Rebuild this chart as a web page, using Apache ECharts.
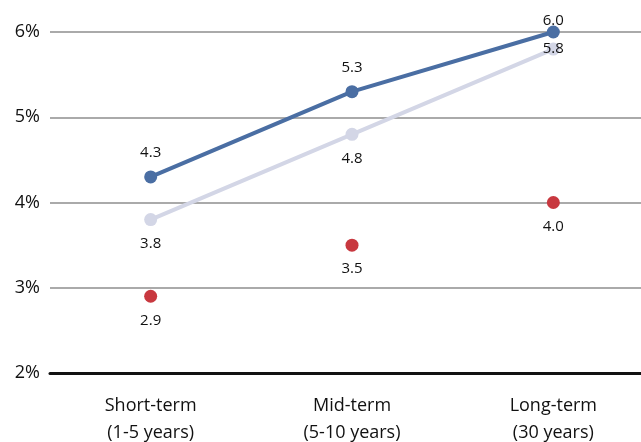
<!DOCTYPE html>
<html>
<head>
<meta charset="utf-8">
<script src="https://cdn.jsdelivr.net/npm/echarts@6/dist/echarts.min.js"></script>
<style>
  html, body { margin: 0; padding: 0; background: #fff; overflow: hidden; }
  #chart { width: 654px; height: 442px; }
</style>
</head>
<body>
<div id="chart"></div>
<script>
// Yield expectations by maturity
const categories = ['Short-term\n(1-5 years)', 'Mid-term\n(5-10 years)', 'Long-term\n(30 years)'];
const upperSeries = [4.3, 5.3, 6.0];
const middleSeries = [3.8, 4.8, 5.8];
const lowerSeries = [2.9, 3.5, 4.0];
const yTicks = [2, 3, 4, 5, 6];

const FONT = '"Open Sans", "Noto Sans", sans-serif';
const labelStyle = { color: '#111', fontSize: 15, fontFamily: FONT };
const fmt = p => p.value.toFixed(1);

const chart = echarts.init(document.getElementById('chart'));
chart.setOption({
  animation: false,
  grid: { left: 50, right: 0, top: 32, bottom: 69, containLabel: false, outerBoundsMode: 'none' },
  xAxis: {
    type: 'category',
    data: categories,
    boundaryGap: true,
    axisLine: { lineStyle: { color: '#111', width: 3 } },
    axisTick: { show: false },
    axisLabel: { color: '#111', fontSize: 18, fontFamily: FONT, lineHeight: 27, margin: 19 }
  },
  yAxis: {
    type: 'value',
    min: yTicks[0],
    max: yTicks[yTicks.length - 1],
    interval: 1,
    axisLine: { show: false },
    axisTick: { show: false },
    splitLine: { lineStyle: { color: '#aaa', width: 2 } },
    axisLabel: { color: '#111', fontSize: 18, fontFamily: FONT, margin: 10, formatter: v => v + '%' }
  },
  series: [
    {
      type: 'line',
      data: middleSeries.map((v, i) => i === 2
        ? { value: v, label: { position: 'inside' } }
        : v),
      lineStyle: { color: '#d3d6e6', width: 4 },
      itemStyle: { color: '#d3d6e6', opacity: 1 },
      symbol: 'circle', symbolSize: 13,
      label: Object.assign({ show: true, position: 'bottom', distance: 10, formatter: fmt }, labelStyle),
      z: 2
    },
    {
      type: 'line',
      data: upperSeries.map((v, i) => i === 2
        ? { value: v, label: { distance: -3 } }
        : v),
      lineStyle: { color: '#4a6ea3', width: 4 },
      itemStyle: { color: '#4a6ea3', opacity: 1 },
      symbol: 'circle', symbolSize: 13,
      label: Object.assign({ show: true, position: 'top', distance: 10, formatter: fmt }, labelStyle),
      z: 3
    },
    {
      type: 'scatter',
      data: lowerSeries,
      itemStyle: { color: '#c8383f', opacity: 1 },
      symbol: 'circle', symbolSize: 13,
      label: Object.assign({ show: true, position: 'bottom', distance: 10, formatter: fmt }, labelStyle),
      z: 2
    }
  ]
});
</script>
</body>
</html>
